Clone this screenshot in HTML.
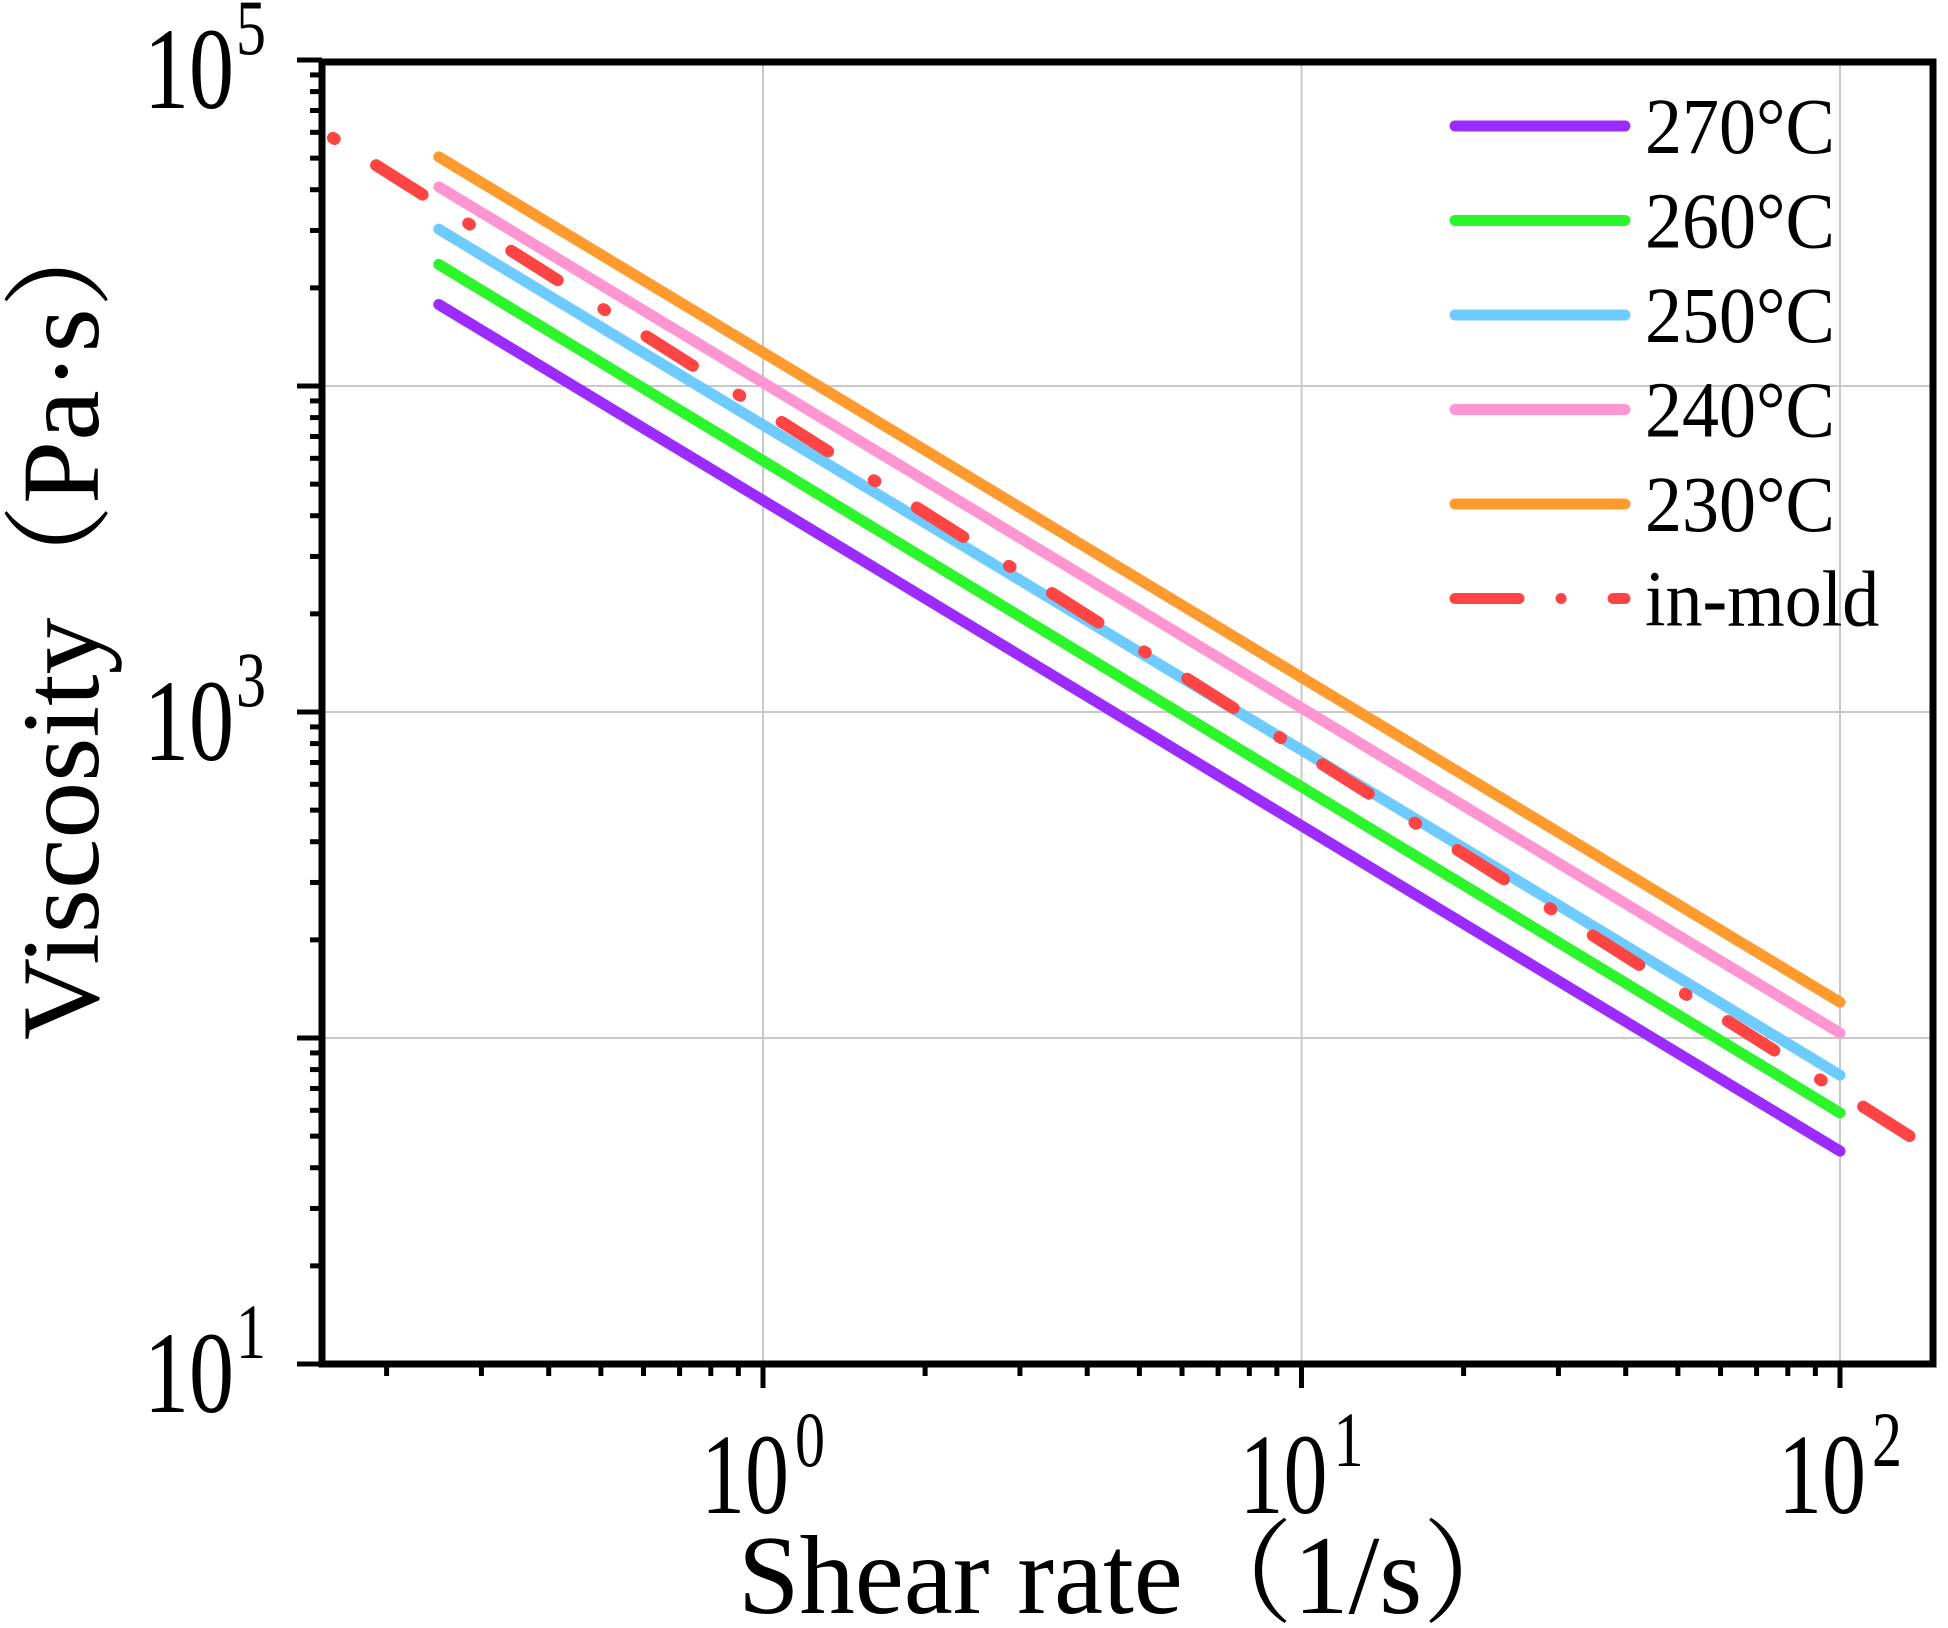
<!DOCTYPE html>
<html><head><meta charset="utf-8"><style>
html,body{margin:0;padding:0;background:#fff;}
svg{display:block;}
text{font-family:"Liberation Serif","Noto Serif CJK SC",serif;fill:#000;}
</style></head><body>
<svg id="chart" width="1948" height="1628" viewBox="0 0 1948 1628" xmlns="http://www.w3.org/2000/svg">
<g id="grid"></g>
<g id="series"></g>
<g id="axes"></g>
<g id="legend"></g>
<text id="xtitle" font-size="90">Shear rate（1/s）</text>
<text id="ytitle" font-size="92">Viscosity（Pa·s）</text>
</svg>
<script>
const seriesNames = ["270°C","260°C","250°C","240°C","230°C","in-mold"];
const seriesColors = ["#9B2BFF","#2CF52C","#6ECBFF","#FF96D2","#FF9A2E","#FF4444"];
const shearRate270 = [0.25, 100];
const visc270 = [17780, 45.0];
const shearRate260 = [0.25, 100];
const visc260 = [23600, 58.9];
const shearRate250 = [0.25, 100];
const visc250 = [30270, 76.9];
const shearRate240 = [0.25, 100];
const visc240 = [40830, 103.5];
const shearRate230 = [0.25, 100];
const visc230 = [50470, 128.8];
const shearRateMold = [0.159, 149];
const viscMold = [57680, 45.0];
const xTickExps = [0, 1, 2];
const yTickExps = [1, 3, 5];
const yGridExps = [1, 2, 3, 4, 5];

const NS = "http://www.w3.org/2000/svg";
const L = 322, R = 1933, T = 62, B = 1364;
const x0 = 763, xDec = 538.5;
const y1 = 1364, yDec = 326;
function xs(v){ return x0 + Math.log10(v) * xDec; }
function ys(v){ return y1 - (Math.log10(v) - 1) * yDec; }
function mk(tag, attrs, parent){ const e = document.createElementNS(NS, tag); for (const k in attrs) e.setAttribute(k, attrs[k]); parent.appendChild(e); return e; }

const grid = document.getElementById('grid');
const axes = document.getElementById('axes');
const ser = document.getElementById('series');
const leg = document.getElementById('legend');

for (const e of xTickExps) {
  const x = xs(Math.pow(10, e));
  const g = mk('line', {x1:x, x2:x, y1:T, y2:B, stroke:'#c8c8c8', 'stroke-width':2}, grid);
  
  
}
for (const e of yGridExps) {
  const y = ys(Math.pow(10, e));
  const g = mk('line', {x1:L, x2:R, y1:y, y2:y, stroke:'#c8c8c8', 'stroke-width':2}, grid);
  
  
}

const allX = [shearRate270, shearRate260, shearRate250, shearRate240, shearRate230, shearRateMold];
const allY = [visc270, visc260, visc250, visc240, visc230, viscMold];
for (let i = 0; i < 6; i++) {
  const pts = allX[i].map((v, j) => xs(v).toFixed(1) + ',' + ys(allY[i][j]).toFixed(1)).join(' ');
  const p = mk('polyline', {points:pts, fill:'none', stroke:seriesColors[i], 'stroke-width':11, 'stroke-linecap':'round'}, ser);
  if (i === 5) { p.setAttribute('stroke-dasharray', '2 49 55 54'); p.setAttribute('stroke-width', 12); }
  
  
}

const fr = mk('rect', {x:L, y:T, width:R-L, height:B-T, fill:'none', stroke:'#000', 'stroke-width':7}, axes);



for (let e = 1; e <= 5; e++) {
  for (let m = 1; m <= 9; m++) {
    if (e === 5 && m > 1) break;
    const y = ys(m * Math.pow(10, e));
    const len = m === 1 ? 25 : 12;
    const t = mk('line', {x1:L-len, x2:L, y1:y, y2:y, stroke:'#000', 'stroke-width':5}, axes);
    
    
  }
}
for (let e = -1; e <= 2; e++) {
  for (let m = 1; m <= 9; m++) {
    const v = m * Math.pow(10, e);
    const x = xs(v);
    if (x < L + 5 || x > R - 5) continue;
    const len = m === 1 ? 24 : 12;
    const t = mk('line', {x1:x, x2:x, y1:B, y2:B+len, stroke:'#000', 'stroke-width':5}, axes);
    
    
  }
}
for (const e of yTickExps) {
  const y = ys(Math.pow(10, e));
  const t1 = mk('text', {transform:`translate(234,${y+48}) scale(1,1.3)`, 'font-size':90, 'text-anchor':'end'}, axes);
  t1.textContent = '10';
  
  
  const s = mk('text', {transform:`translate(236,${y-6}) scale(1,1.3)`, 'font-size':60}, axes);
  s.textContent = String(e);
  
  
}
for (const e of xTickExps) {
  const x = xs(Math.pow(10, e));
  const t1 = mk('text', {transform:`translate(${x-18},1513) scale(1,1.3)`, 'font-size':88, 'text-anchor':'middle'}, axes);
  t1.textContent = '10';
  
  
  const s = mk('text', {transform:`translate(${x+32},1466) scale(1,1.3)`, 'font-size':60}, axes);
  s.textContent = String(e);
  
  
}

for (let i = 0; i < 6; i++) {
  const y = 126 + i * 94.5;
  const ln = mk('line', {x1:1455, x2:1625, y1:y, y2:y, stroke:seriesColors[i], 'stroke-width':11, 'stroke-linecap':'round'}, leg);
  if (i === 5) ln.setAttribute('stroke-dasharray', '64 42 0.1 52');
  
  
  const t = mk('text', {transform:`translate(1645,${y+27}) scale(1,1.08)`, 'font-size':74}, leg);
  t.textContent = seriesNames[i];
  
  
}

const xt = document.getElementById('xtitle');
const wx = xt.getComputedTextLength() || 700;
xt.setAttribute('transform', `translate(738,1613) scale(${(795/wx).toFixed(3)},1.25)`);
const yt = document.getElementById('ytitle');
const wy = yt.getComputedTextLength() || 700;
yt.setAttribute('transform', `translate(98,1040) rotate(-90) scale(${(845/wy).toFixed(3)},1.2)`);
</script>
</body></html>
